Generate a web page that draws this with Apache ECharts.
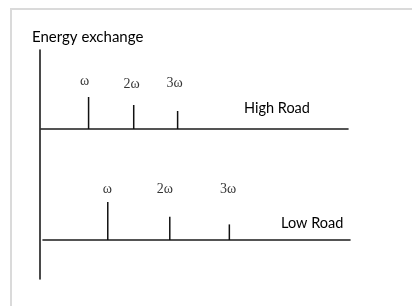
<!DOCTYPE html>
<html><head><meta charset="utf-8">
<script src="https://cdn.jsdelivr.net/npm/echarts@6/dist/echarts.min.js"></script>
<style>html,body{margin:0;padding:0;background:#fff}#c{width:412px;height:306px}</style>
</head><body><div id="c"></div>
<script>
// Harmonic labels
const harmonicLabels = ['ω', '2ω', '3ω'];
// High Road: spike positions along the axis (0-100) and energy heights
const highPos = [15.5, 30.2, 44.5];
const highEnergy = [4.0, 3.0, 2.25];
const highLabelPos = [14.2, 29.5, 43.5];
const highLabelLevel = [5.9, 5.6, 5.7];
// Low Road
const lowPos = [21.1, 41.3, 60.7];
const lowEnergy = [4.75, 2.9, 1.95];
const lowLabelPos = [21.0, 39.7, 60.3];
const lowLabelLevel = [6.3, 6.3, 6.3];

const chart = echarts.init(document.getElementById('c'), null, {renderer: 'canvas'});
const lineCol = '#1c1c1c';
function xAx(grid) {
  return {type: 'value', gridIndex: grid, min: 0, max: 100, position: 'bottom',
    axisLine: {show: true, onZero: false, lineStyle: {color: lineCol, width: 1.6}},
    axisTick: {show: false}, axisLabel: {show: false}, splitLine: {show: false}};
}
function yAx(grid) {
  return {type: 'value', gridIndex: grid, min: 0, max: 10, show: false, splitLine: {show: false}};
}
const labelStyle = {show: true, position: 'inside', fontFamily: 'Liberation Serif', fontSize: 14, color: '#000',
  formatter: p => p.name};

chart.setOption({
  animation: false,
  grid: [
    {left: 41, top: 49, width: 307, height: 80},
    {left: 43, top: 160, width: 307, height: 80},
    {left: 40, top: 50, width: 10, bottom: 27}
  ],
  xAxis: [xAx(0), xAx(1), {type: 'value', gridIndex: 2, show: false}],
  yAxis: [yAx(0), yAx(1), {type: 'value', gridIndex: 2, show: true, position: 'left',
    axisLine: {show: true, lineStyle: {color: lineCol, width: 1.6}}, axisTick: {show: false},
    axisLabel: {show: false}, splitLine: {show: false}}],
  series: [
    {type: 'bar', xAxisIndex: 0, yAxisIndex: 0, barWidth: 1.5, itemStyle: {color: '#111'},
      data: highPos.map((x, i) => [x, highEnergy[i]])},
    {type: 'bar', xAxisIndex: 1, yAxisIndex: 1, barWidth: 1.5, itemStyle: {color: '#111'},
      data: lowPos.map((x, i) => [x, lowEnergy[i]])},
    {type: 'scatter', xAxisIndex: 0, yAxisIndex: 0, symbolSize: 0, label: labelStyle,
      data: highLabelPos.map((x, i) => ({name: harmonicLabels[i], value: [x, highLabelLevel[i]]}))},
    {type: 'scatter', xAxisIndex: 1, yAxisIndex: 1, symbolSize: 0, label: labelStyle,
      data: lowLabelPos.map((x, i) => ({name: harmonicLabels[i], value: [x, lowLabelLevel[i]]}))},
    {type: 'scatter', xAxisIndex: 2, yAxisIndex: 2, data: []}
  ],
  graphic: [
    {type: 'rect', shape: {x: 11, y: 9, width: 430, height: 330}, style: {fill: 'none', stroke: '#dadada', lineWidth: 2}, silent: true},
    {type: 'text', left: 32, top: 30, style: {text: 'Energy exchange', font: '15px Lato', fill: '#000'}},
    {type: 'text', left: 244, top: 101, style: {text: 'High Road', font: '14.5px Lato', fill: '#000'}},
    {type: 'text', left: 281, top: 216, style: {text: 'Low Road', font: '14.5px Lato', fill: '#000'}}
  ]
});
</script></body></html>
